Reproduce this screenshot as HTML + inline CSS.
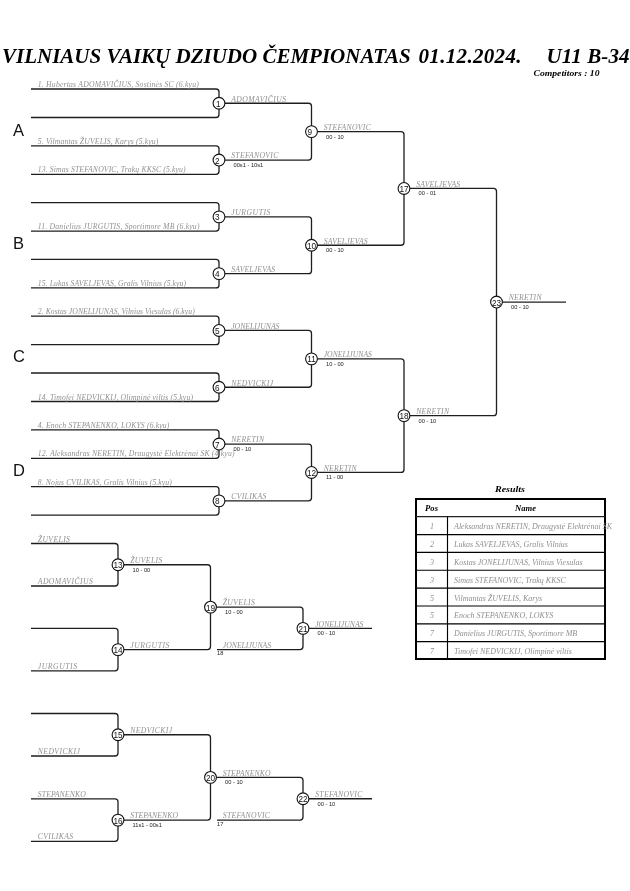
<!DOCTYPE html>
<html><head><meta charset="utf-8"><style>
html,body{margin:0;padding:0;background:#fff;width:630px;height:891px;overflow:hidden}
svg{display:block;will-change:transform}
.n{font-family:"Liberation Serif",serif;font-style:italic}
.s{font-family:"Liberation Sans",sans-serif;font-size:5.7px;fill:#222}
.c{font-family:"Liberation Sans",sans-serif;font-size:8.2px;fill:#111;text-anchor:middle}
.L{font-family:"Liberation Sans",sans-serif;font-size:16.5px;fill:#111}
.h{font-family:"Liberation Serif",serif;font-style:italic;font-size:8px;fill:#000}
.t{font-family:"Liberation Serif",serif;font-style:italic;font-weight:bold;fill:#000}
</style></head><body>
<svg width="630" height="891" viewBox="0 0 630 891">
<text class="t" x="2" y="63" font-size="21">VILNIAUS VAIKŲ DZIUDO ČEMPIONATAS</text>
<text class="t" x="418.5" y="63" font-size="21" textLength="103" lengthAdjust="spacing">01.12.2024.</text>
<text class="t" x="546.5" y="63" font-size="21" textLength="83" lengthAdjust="spacing">U11 B-34</text>
<text class="h" x="533.5" y="76" font-size="12" font-weight="bold" textLength="66" lengthAdjust="spacingAndGlyphs">Competitors : 10</text>
<g fill="none" stroke="#1e1e1e" stroke-width="1.3">
<path d="M31,89.0 H216.0 Q219.0,89.0 219.0,92.0 V114.5 Q219.0,117.5 216.0,117.5 H31" />
<path d="M31,145.8 H216.0 Q219.0,145.8 219.0,148.8 V171.3 Q219.0,174.3 216.0,174.3 H31" />
<path d="M31,202.6 H216.0 Q219.0,202.6 219.0,205.6 V228.1 Q219.0,231.1 216.0,231.1 H31" />
<path d="M31,259.4 H216.0 Q219.0,259.4 219.0,262.4 V284.9 Q219.0,287.9 216.0,287.9 H31" />
<path d="M31,316.2 H216.0 Q219.0,316.2 219.0,319.2 V341.7 Q219.0,344.7 216.0,344.7 H31" />
<path d="M31,373.0 H216.0 Q219.0,373.0 219.0,376.0 V398.5 Q219.0,401.5 216.0,401.5 H31" />
<path d="M31,429.79999999999995 H216.0 Q219.0,429.79999999999995 219.0,432.79999999999995 V455.29999999999995 Q219.0,458.29999999999995 216.0,458.29999999999995 H31" />
<path d="M31,486.59999999999997 H216.0 Q219.0,486.59999999999997 219.0,489.59999999999997 V512.0999999999999 Q219.0,515.0999999999999 216.0,515.0999999999999 H31" />
<path d="M219.0,103.25 H308.5 Q311.5,103.25 311.5,106.25 V157.05 Q311.5,160.05 308.5,160.05 H219.0" />
<path d="M219.0,216.85 H308.5 Q311.5,216.85 311.5,219.85 V270.65 Q311.5,273.65 308.5,273.65 H219.0" />
<path d="M219.0,330.45 H308.5 Q311.5,330.45 311.5,333.45 V384.25 Q311.5,387.25 308.5,387.25 H219.0" />
<path d="M219.0,444.04999999999995 H308.5 Q311.5,444.04999999999995 311.5,447.04999999999995 V497.84999999999997 Q311.5,500.84999999999997 308.5,500.84999999999997 H219.0" />
<path d="M311.5,131.65 H401.0 Q404,131.65 404,134.65 V242.25 Q404,245.25 401.0,245.25 H311.5" />
<path d="M311.5,358.85 H401.0 Q404,358.85 404,361.85 V469.44999999999993 Q404,472.44999999999993 401.0,472.44999999999993 H311.5" />
<path d="M404,188.45 H493.5 Q496.5,188.45 496.5,191.45 V412.65 Q496.5,415.65 493.5,415.65 H404" />
<path d="M496.5,302.04999999999995 H566" />
<path d="M31,543.5 H115.0 Q118,543.5 118,546.5 V583.0 Q118,586.0 115.0,586.0 H31" />
<path d="M31,628.35 H115.0 Q118,628.35 118,631.35 V667.85 Q118,670.85 115.0,670.85 H31" />
<path d="M118,564.75 H207.5 Q210.5,564.75 210.5,567.75 V646.6 Q210.5,649.6 207.5,649.6 H118" />
<path d="M210.5,607.175 H300.0 Q303,607.175 303,610.175 V646.6 Q303,649.6 300.0,649.6 H217" />
<path d="M303,628.3875 H372" />
<path d="M31,713.5 H115.0 Q118,713.5 118,716.5 V753.0 Q118,756.0 115.0,756.0 H31" />
<path d="M31,798.85 H115.0 Q118,798.85 118,801.85 V838.35 Q118,841.35 115.0,841.35 H31" />
<path d="M118,734.75 H207.5 Q210.5,734.75 210.5,737.75 V817.1 Q210.5,820.1 207.5,820.1 H118" />
<path d="M210.5,777.425 H300.0 Q303,777.425 303,780.425 V817.1 Q303,820.1 300.0,820.1 H217" />
<path d="M303,798.7625 H372" />
</g>
<g fill="#fff" stroke="#111" stroke-width="1.1">
<circle cx="219.0" cy="103.25" r="5.9" />
<circle cx="219.0" cy="160.05" r="5.9" />
<circle cx="219.0" cy="216.85" r="5.9" />
<circle cx="219.0" cy="273.65" r="5.9" />
<circle cx="219.0" cy="330.45" r="5.9" />
<circle cx="219.0" cy="387.25" r="5.9" />
<circle cx="219.0" cy="444.04999999999995" r="5.9" />
<circle cx="219.0" cy="500.84999999999997" r="5.9" />
<circle cx="311.5" cy="131.65" r="5.9" />
<circle cx="311.5" cy="245.25" r="5.9" />
<circle cx="311.5" cy="358.85" r="5.9" />
<circle cx="311.5" cy="472.44999999999993" r="5.9" />
<circle cx="404" cy="188.45" r="5.9" />
<circle cx="404" cy="415.65" r="5.9" />
<circle cx="496.5" cy="302.04999999999995" r="5.9" />
<circle cx="118" cy="564.75" r="5.9" />
<circle cx="118" cy="649.6" r="5.9" />
<circle cx="210.5" cy="607.175" r="5.9" />
<circle cx="303" cy="628.3875" r="5.9" />
<circle cx="118" cy="734.75" r="5.9" />
<circle cx="118" cy="820.1" r="5.9" />
<circle cx="210.5" cy="777.425" r="5.9" />
<circle cx="303" cy="798.7625" r="5.9" />
</g>
<text class="n" x="37.80" y="87.10" font-size="7.7" fill="#909090" letter-spacing="0.200">1. Hubertas ADOMAVIČIUS, Sostinės SC (6.kyu)</text>
<text class="n" x="37.80" y="143.90" font-size="7.7" fill="#909090" letter-spacing="0.141">5. Vilmantas ŽUVELIS, Karys (5.kyu)</text>
<text class="n" x="37.80" y="172.40" font-size="7.7" fill="#909090" letter-spacing="0.136">13. Simas STEFANOVIC, Trakų KKSC (5.kyu)</text>
<text class="n" x="37.80" y="229.20" font-size="7.7" fill="#909090" letter-spacing="0.200">11. Danielius JURGUTIS, Sportimore MB (6.kyu)</text>
<text class="n" x="37.80" y="286.00" font-size="7.7" fill="#909090" letter-spacing="0.088">15. Lukas SAVELJEVAS, Gralis Vilnius (5.kyu)</text>
<text class="n" x="37.80" y="314.30" font-size="7.7" fill="#909090" letter-spacing="0.048">2. Kostas JONELIJUNAS, Vilnius Viesulas (6.kyu)</text>
<text class="n" x="37.80" y="399.60" font-size="7.7" fill="#909090" letter-spacing="0.156">14. Timofei NEDVICKIJ, Olimpinė viltis (5.kyu)</text>
<text class="n" x="37.80" y="427.90" font-size="7.7" fill="#909090" letter-spacing="0.155">4. Enoch STEPANENKO, LOKYS (6.kyu)</text>
<text class="n" x="37.80" y="456.40" font-size="7.7" fill="#909090" letter-spacing="0.182">12. Aleksandras NERETIN, Draugystė Elektrėnai SK (4.kyu)</text>
<text class="n" x="37.80" y="484.70" font-size="7.7" fill="#909090" letter-spacing="0.088">8. Nojus CVILIKAS, Gralis Vilnius (5.kyu)</text>
<text class="n" x="231.20" y="101.55" font-size="7.7" fill="#909090" letter-spacing="0.410">ADOMAVIČIUS</text>
<text class="c" x="218.40" y="106.85">1</text>
<text class="n" x="231.20" y="158.35" font-size="7.7" fill="#909090" letter-spacing="0.320">STEFANOVIC</text>
<text class="s" x="233.5" y="167.05">00s1 - 10s1</text>
<text class="c" x="217.40" y="163.65">2</text>
<text class="n" x="231.20" y="215.15" font-size="7.7" fill="#909090" letter-spacing="0.540">JURGUTIS</text>
<text class="c" x="217.40" y="220.45">3</text>
<text class="n" x="231.20" y="271.95" font-size="7.7" fill="#909090" letter-spacing="0.150">SAVELJEVAS</text>
<text class="c" x="217.40" y="277.25">4</text>
<text class="n" x="231.20" y="328.75" font-size="7.7" fill="#909090" letter-spacing="0.000">JONELIJUNAS</text>
<text class="c" x="217.40" y="334.05">5</text>
<text class="n" x="231.20" y="385.55" font-size="7.7" fill="#909090" letter-spacing="0.400">NEDVICKIJ</text>
<text class="c" x="217.40" y="390.85">6</text>
<text class="n" x="231.20" y="442.35" font-size="7.7" fill="#909090" letter-spacing="0.280">NERETIN</text>
<text class="s" x="233.5" y="451.04999999999995">00 - 10</text>
<text class="c" x="217.40" y="447.65">7</text>
<text class="n" x="231.20" y="499.15" font-size="7.7" fill="#909090" letter-spacing="0.340">CVILIKAS</text>
<text class="c" x="217.40" y="504.45">8</text>
<text class="n" x="323.70" y="129.95" font-size="7.7" fill="#909090" letter-spacing="0.320">STEFANOVIC</text>
<text class="s" x="326.0" y="138.65">00 - 10</text>
<text class="c" x="309.90" y="135.25">9</text>
<text class="n" x="323.70" y="243.55" font-size="7.7" fill="#909090" letter-spacing="0.150">SAVELJEVAS</text>
<text class="s" x="326.0" y="252.25">00 - 10</text>
<text class="c" x="311.50" y="248.85">10</text>
<text class="n" x="323.70" y="357.15" font-size="7.7" fill="#909090" letter-spacing="0.000">JONELIJUNAS</text>
<text class="s" x="326.0" y="365.85">10 - 00</text>
<text class="c" x="311.50" y="362.45">11</text>
<text class="n" x="323.70" y="470.75" font-size="7.7" fill="#909090" letter-spacing="0.280">NERETIN</text>
<text class="s" x="326.0" y="479.44999999999993">11 - 00</text>
<text class="c" x="311.50" y="476.05">12</text>
<text class="n" x="416.20" y="186.75" font-size="7.7" fill="#909090" letter-spacing="0.150">SAVELJEVAS</text>
<text class="s" x="418.5" y="195.45">00 - 01</text>
<text class="c" x="404.00" y="192.05">17</text>
<text class="n" x="416.20" y="413.95" font-size="7.7" fill="#909090" letter-spacing="0.280">NERETIN</text>
<text class="s" x="418.5" y="422.65">00 - 10</text>
<text class="c" x="404.00" y="419.25">18</text>
<text class="n" x="508.70" y="300.35" font-size="7.7" fill="#909090" letter-spacing="0.280">NERETIN</text>
<text class="s" x="511.0" y="309.04999999999995">00 - 10</text>
<text class="c" x="496.50" y="305.65">23</text>
<text class="L" x="13" y="135.80">A</text>
<text class="L" x="13" y="249.10">B</text>
<text class="L" x="13" y="362.40">C</text>
<text class="L" x="13" y="475.70">D</text>
<text class="n" x="37.80" y="541.60" font-size="7.7" fill="#909090" letter-spacing="0.370">ŽUVELIS</text>
<text class="n" x="37.80" y="584.10" font-size="7.7" fill="#909090" letter-spacing="0.410">ADOMAVIČIUS</text>
<text class="n" x="37.80" y="668.95" font-size="7.7" fill="#909090" letter-spacing="0.540">JURGUTIS</text>
<text class="n" x="130.20" y="563.05" font-size="7.7" fill="#909090" letter-spacing="0.370">ŽUVELIS</text>
<text class="s" x="132.5" y="571.75">10 - 00</text>
<text class="c" x="118.00" y="568.35">13</text>
<text class="n" x="130.20" y="647.90" font-size="7.7" fill="#909090" letter-spacing="0.540">JURGUTIS</text>
<text class="c" x="118.00" y="653.20">14</text>
<text class="n" x="222.70" y="605.47" font-size="7.7" fill="#909090" letter-spacing="0.370">ŽUVELIS</text>
<text class="s" x="225.0" y="614.175">10 - 00</text>
<text class="c" x="210.50" y="610.77">19</text>
<text class="n" x="222.80" y="647.70" font-size="7.7" fill="#909090" letter-spacing="0.000">JONELIJUNAS</text>
<text class="s" x="217" y="655.1">18</text>
<text class="n" x="315.20" y="626.69" font-size="7.7" fill="#909090" letter-spacing="0.000">JONELIJUNAS</text>
<text class="s" x="317.5" y="635.3875">00 - 10</text>
<text class="c" x="303.00" y="631.99">21</text>
<text class="n" x="37.80" y="796.95" font-size="7.7" fill="#909090" letter-spacing="0.120">STEPANENKO</text>
<text class="n" x="37.80" y="754.10" font-size="7.7" fill="#909090" letter-spacing="0.400">NEDVICKIJ</text>
<text class="n" x="37.80" y="839.45" font-size="7.7" fill="#909090" letter-spacing="0.340">CVILIKAS</text>
<text class="n" x="130.20" y="733.05" font-size="7.7" fill="#909090" letter-spacing="0.400">NEDVICKIJ</text>
<text class="c" x="118.00" y="738.35">15</text>
<text class="n" x="130.20" y="818.40" font-size="7.7" fill="#909090" letter-spacing="0.120">STEPANENKO</text>
<text class="s" x="132.5" y="827.1">11s1 - 00s1</text>
<text class="c" x="118.00" y="823.70">16</text>
<text class="n" x="222.70" y="775.72" font-size="7.7" fill="#909090" letter-spacing="0.120">STEPANENKO</text>
<text class="s" x="225.0" y="784.425">00 - 10</text>
<text class="c" x="210.50" y="781.02">20</text>
<text class="n" x="222.80" y="818.20" font-size="7.7" fill="#909090" letter-spacing="0.320">STEFANOVIC</text>
<text class="s" x="217" y="825.6">17</text>
<text class="n" x="315.20" y="797.06" font-size="7.7" fill="#909090" letter-spacing="0.320">STEFANOVIC</text>
<text class="s" x="317.5" y="805.7625">00 - 10</text>
<text class="c" x="303.00" y="802.36">22</text>
<rect x="416" y="499" width="189" height="160" fill="none" stroke="#000" stroke-width="2"/>
<path d="M416,516.7 H605" stroke="#222" stroke-width="1.2"/>
<path d="M416,534.55 H605" stroke="#000" stroke-width="1.15"/>
<path d="M416,552.40 H605" stroke="#000" stroke-width="1.15"/>
<path d="M416,570.25 H605" stroke="#000" stroke-width="1.15"/>
<path d="M416,588.10 H605" stroke="#000" stroke-width="1.15"/>
<path d="M416,605.95 H605" stroke="#000" stroke-width="1.15"/>
<path d="M416,623.80 H605" stroke="#000" stroke-width="1.15"/>
<path d="M416,641.65 H605" stroke="#000" stroke-width="1.15"/>
<path d="M447.5,516.7 V659" stroke="#000" stroke-width="1.15"/>
<text class="n" x="432" y="529.23" text-anchor="middle" font-size="8" fill="#909090">1</text>
<text class="n" x="454" y="529.23" font-size="8" fill="#909090">Aleksandras NERETIN, Draugystė Elektrėnai SK</text>
<text class="n" x="432" y="547.08" text-anchor="middle" font-size="8" fill="#909090">2</text>
<text class="n" x="454" y="547.08" font-size="8" fill="#909090">Lukas SAVELJEVAS, Gralis Vilnius</text>
<text class="n" x="432" y="564.93" text-anchor="middle" font-size="8" fill="#909090">3</text>
<text class="n" x="454" y="564.93" font-size="8" fill="#909090">Kostas JONELIJUNAS, Vilnius Viesulas</text>
<text class="n" x="432" y="582.77" text-anchor="middle" font-size="8" fill="#909090">3</text>
<text class="n" x="454" y="582.77" font-size="8" fill="#909090">Simas STEFANOVIC, Trakų KKSC</text>
<text class="n" x="432" y="600.62" text-anchor="middle" font-size="8" fill="#909090">5</text>
<text class="n" x="454" y="600.62" font-size="8" fill="#909090">Vilmantas ŽUVELIS, Karys</text>
<text class="n" x="432" y="618.48" text-anchor="middle" font-size="8" fill="#909090">5</text>
<text class="n" x="454" y="618.48" font-size="8" fill="#909090">Enoch STEPANENKO, LOKYS</text>
<text class="n" x="432" y="636.33" text-anchor="middle" font-size="8" fill="#909090">7</text>
<text class="n" x="454" y="636.33" font-size="8" fill="#909090">Danielius JURGUTIS, Sportimore MB</text>
<text class="n" x="432" y="654.18" text-anchor="middle" font-size="8" fill="#909090">7</text>
<text class="n" x="454" y="654.18" font-size="8" fill="#909090">Timofei NEDVICKIJ, Olimpinė viltis</text>
<text class="h" x="425" y="511" font-weight="bold" textLength="13" lengthAdjust="spacingAndGlyphs">Pos</text>
<text class="h" x="515" y="511" font-weight="bold" textLength="21" lengthAdjust="spacingAndGlyphs">Name</text>
<text class="h" x="495" y="492" font-size="8.6" font-weight="bold" textLength="30" lengthAdjust="spacingAndGlyphs">Results</text>
</svg>
</body></html>
